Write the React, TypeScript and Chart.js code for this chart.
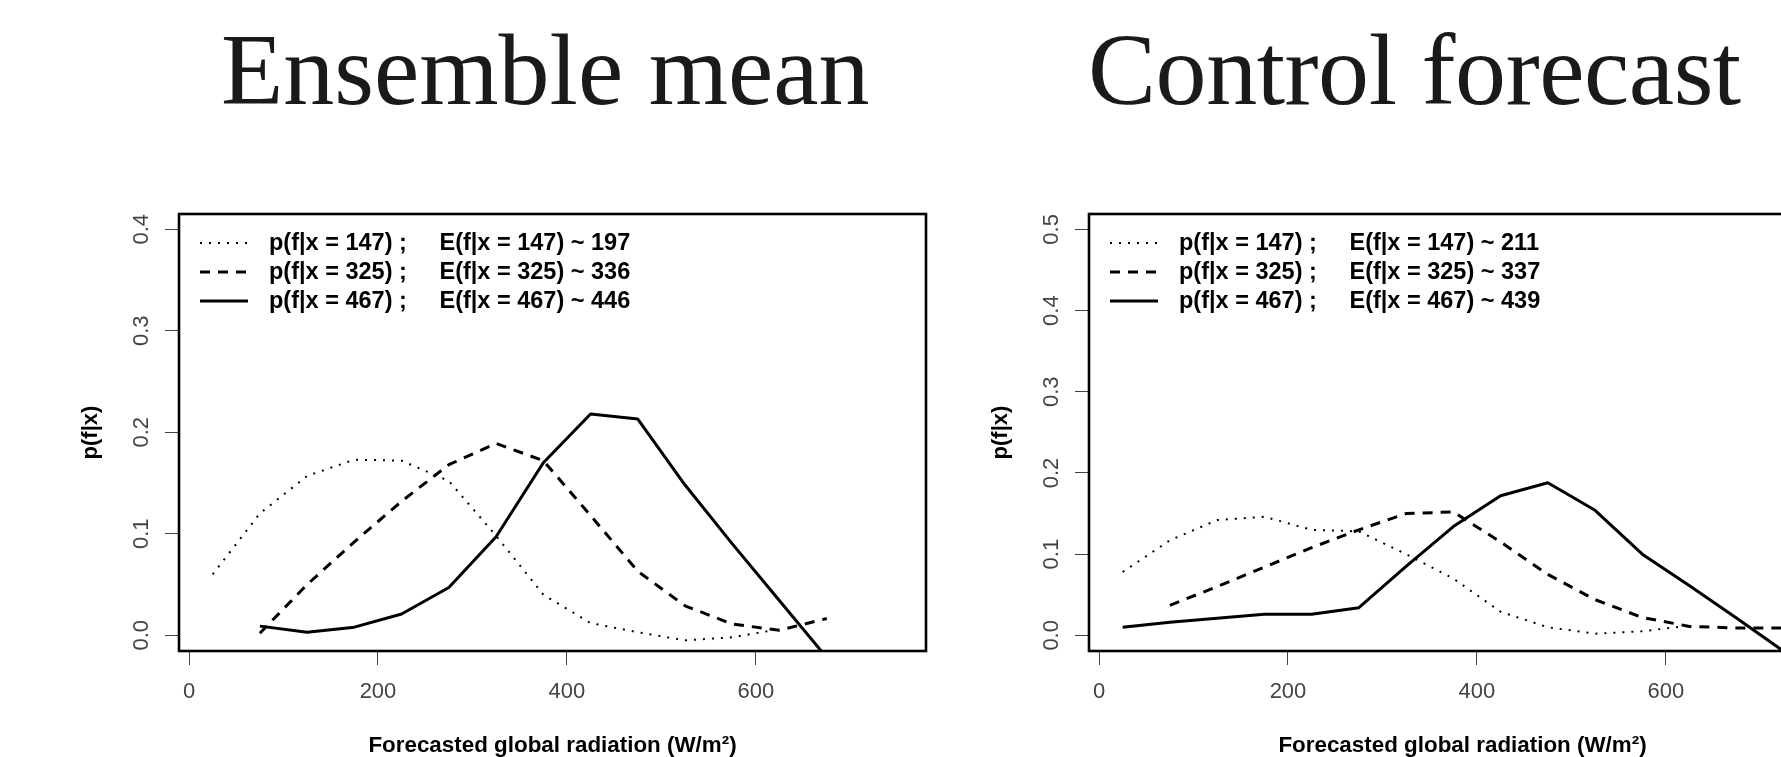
import React, { useEffect, useRef } from "react";
import { Chart, registerables } from "chart.js";

Chart.register(...registerables);

// ---------- data ----------
const X_TICKS = [0, 200, 400, 600];
const EM_Y_TICKS = [0, 0.1, 0.2, 0.3, 0.4];
const CF_Y_TICKS = [0, 0.1, 0.2, 0.3, 0.4, 0.5];

// Ensemble mean panel
const EM_DOTTED_X = [25, 75, 125, 175, 225, 275, 325, 375, 425, 475, 525, 575, 625];
const EM_DOTTED_Y = [0.06, 0.12, 0.157, 0.173, 0.172, 0.152, 0.098, 0.04, 0.012, 0.003, -0.005, -0.002, 0.006];
const EM_DASHED_X = [75, 125, 175, 225, 275, 325, 375, 425, 475, 525, 575, 625, 675];
const EM_DASHED_Y = [0.002, 0.05, 0.092, 0.132, 0.168, 0.189, 0.172, 0.118, 0.063, 0.029, 0.011, 0.005, 0.0165];
const EM_SOLID_X = [75, 125, 175, 225, 275, 325, 375, 425, 475, 525, 575, 625, 675];
const EM_SOLID_Y = [0.009, 0.003, 0.008, 0.021, 0.047, 0.097, 0.17, 0.218, 0.213, 0.148, 0.09, 0.034, -0.022];
const EM_LABELS = [
  "p(f|x = 147) ;     E(f|x = 147) ~ 197",
  "p(f|x = 325) ;     E(f|x = 325) ~ 336",
  "p(f|x = 467) ;     E(f|x = 467) ~ 446",
];

// Control forecast panel
const CF_DOTTED_X = [25, 75, 125, 175, 225, 275, 325, 375, 425, 475, 525, 575, 625];
const CF_DOTTED_Y = [0.078, 0.117, 0.142, 0.146, 0.13, 0.128, 0.1, 0.07, 0.029, 0.01, 0.002, 0.005, 0.012];
const CF_DASHED_X = [75, 125, 175, 225, 275, 325, 375, 425, 475, 525, 575, 625, 675, 725];
const CF_DASHED_Y = [0.037, 0.06, 0.084, 0.108, 0.13, 0.15, 0.152, 0.115, 0.075, 0.044, 0.022, 0.011, 0.009, 0.009];
const CF_SOLID_X = [25, 75, 125, 175, 225, 275, 325, 375, 425, 475, 525, 575, 625, 675, 725];
const CF_SOLID_Y = [0.01, 0.016, 0.021, 0.026, 0.026, 0.034, 0.085, 0.134, 0.172, 0.188, 0.154, 0.1, 0.061, 0.021, -0.02];
const CF_LABELS = [
  "p(f|x = 147) ;     E(f|x = 147) ~ 211",
  "p(f|x = 325) ;     E(f|x = 325) ~ 337",
  "p(f|x = 467) ;     E(f|x = 467) ~ 439",
];

const TITLES = ["Ensemble mean", "Control forecast"];
const X_TITLE = "Forecasted global radiation (W/m²)";
const Y_TITLE = "p(f|x)";

// ---------- helpers ----------
const pts = (xs: number[], ys: number[]) => xs.map((x, i) => ({ x, y: ys[i] }));
const SANS = '"Liberation Sans", Arial, sans-serif';

const boxLegendPlugin = {
  id: "rBoxLegend",
  afterDatasetsDraw(chart: any) {
    const { ctx, chartArea: a } = chart;
    ctx.save();
    ctx.strokeStyle = "#000";
    ctx.lineWidth = 2.6;
    ctx.setLineDash([]);
    ctx.strokeRect(a.left, a.top, a.right - a.left, a.bottom - a.top);
    chart.data.datasets.forEach((ds: any, i: number) => {
      const y = a.top + 29 + i * 29;
      ctx.beginPath();
      ctx.setLineDash(ds.borderDash || []);
      ctx.lineWidth = ds.borderWidth;
      ctx.strokeStyle = "#000";
      ctx.moveTo(a.left + 21, y);
      ctx.lineTo(a.left + 69, y);
      ctx.stroke();
      ctx.setLineDash([]);
      ctx.font = `bold 23.5px ${SANS}`;
      ctx.fillStyle = "#000";
      ctx.textBaseline = "middle";
      ctx.textAlign = "left";
      ctx.fillText(ds.label, a.left + 90, y + 1);
    });
    ctx.restore();
  },
};

function makeConfig(
  labels: string[],
  series: { x: number[]; y: number[] }[],
  yTicks: number[],
  yMin: number,
  yMax: number
): any {
  const styles = [
    { borderWidth: 2, borderDash: [2, 7] },
    { borderWidth: 3, borderDash: [10, 8] },
    { borderWidth: 3, borderDash: [] as number[] },
  ];
  return {
    type: "line",
    data: {
      datasets: series.map((s, i) => ({
        label: labels[i],
        data: pts(s.x, s.y),
        borderColor: "#000",
        backgroundColor: "#000",
        borderWidth: styles[i].borderWidth,
        borderDash: styles[i].borderDash,
        pointRadius: 0,
        fill: false,
        tension: 0,
        borderJoinStyle: "round",
      })),
    },
    options: {
      animation: false,
      responsive: false,
      devicePixelRatio: 1,
      layout: { padding: { top: 214, right: 34, bottom: 0, left: 0 } },
      plugins: { legend: { display: false }, tooltip: { enabled: false }, title: { display: false } },
      scales: {
        x: {
          type: "linear",
          min: -10.6,
          max: 780,
          afterBuildTicks: (s: any) => {
            s.ticks = X_TICKS.map((v) => ({ value: v }));
          },
          afterFit: (s: any) => {
            s.height = 106;
          },
          grid: { drawOnChartArea: false, drawTicks: true, tickLength: 14, color: "#444", lineWidth: 1 },
          border: { display: false },
          ticks: {
            font: { family: SANS, size: 22 },
            color: "#444",
            padding: 14,
            maxRotation: 0,
            autoSkip: false,
            callback: (v: any) => String(v),
          },
          title: {
            display: true,
            text: X_TITLE,
            color: "#000",
            font: { family: SANS, size: 22.4, weight: "bold" },
            padding: { top: 0, bottom: -2 },
          },
        },
        y: {
          type: "linear",
          min: yMin,
          max: yMax,
          afterBuildTicks: (s: any) => {
            s.ticks = yTicks.map((v) => ({ value: v }));
          },
          afterFit: (s: any) => {
            s.width = 179;
          },
          grid: { drawOnChartArea: false, drawTicks: true, tickLength: 14, color: "#444", lineWidth: 1 },
          border: { display: false },
          ticks: {
            font: { family: SANS, size: 22 },
            color: "#444",
            padding: 8,
            minRotation: 90,
            maxRotation: 90,
            crossAlign: "center",
            autoSkip: false,
            callback: (v: any) => Number(v).toFixed(1),
          },
          title: {
            display: true,
            text: Y_TITLE,
            color: "#000",
            font: { family: SANS, size: 22, weight: "bold" },
            padding: { top: 78, bottom: 0 },
          },
        },
      },
    },
    plugins: [boxLegendPlugin],
  };
}

function Panel(props: { left: number; cfg: () => any }) {
  const ref = useRef<HTMLCanvasElement | null>(null);
  useEffect(() => {
    if (!ref.current) return;
    const chart = new Chart(ref.current, props.cfg());
    return () => chart.destroy();
  }, []);
  return (
    <canvas
      ref={ref}
      width={960}
      height={757}
      style={{ position: "absolute", left: props.left, top: 0, width: 960, height: 757 }}
    />
  );
}

const titleStyle: React.CSSProperties = {
  position: "absolute",
  top: 19,
  fontFamily: '"Liberation Serif", "Times New Roman", serif',
  fontSize: 102,
  lineHeight: "102px",
  whiteSpace: "nowrap",
  color: "#1a1a1a",
};

export default function App() {
  return (
    <div
      style={{
        position: "fixed",
        left: 0,
        top: 0,
        width: 1781,
        height: 757,
        overflow: "hidden",
        background: "#fff",
      }}
    >
      <Panel
        left={0}
        cfg={() =>
          makeConfig(
            EM_LABELS,
            [
              { x: EM_DOTTED_X, y: EM_DOTTED_Y },
              { x: EM_DASHED_X, y: EM_DASHED_Y },
              { x: EM_SOLID_X, y: EM_SOLID_Y },
            ],
            EM_Y_TICKS,
            -0.0155,
            0.415
          )
        }
      />
      <Panel
        left={910}
        cfg={() =>
          makeConfig(
            CF_LABELS,
            [
              { x: CF_DOTTED_X, y: CF_DOTTED_Y },
              { x: CF_DASHED_X, y: CF_DASHED_Y },
              { x: CF_SOLID_X, y: CF_SOLID_Y },
            ],
            CF_Y_TICKS,
            -0.0193,
            0.519
          )
        }
      />
      <div style={{ ...titleStyle, left: 221 }}>{TITLES[0]}</div>
      <div style={{ ...titleStyle, left: 1088, letterSpacing: -0.45 }}>{TITLES[1]}</div>
    </div>
  );
}
